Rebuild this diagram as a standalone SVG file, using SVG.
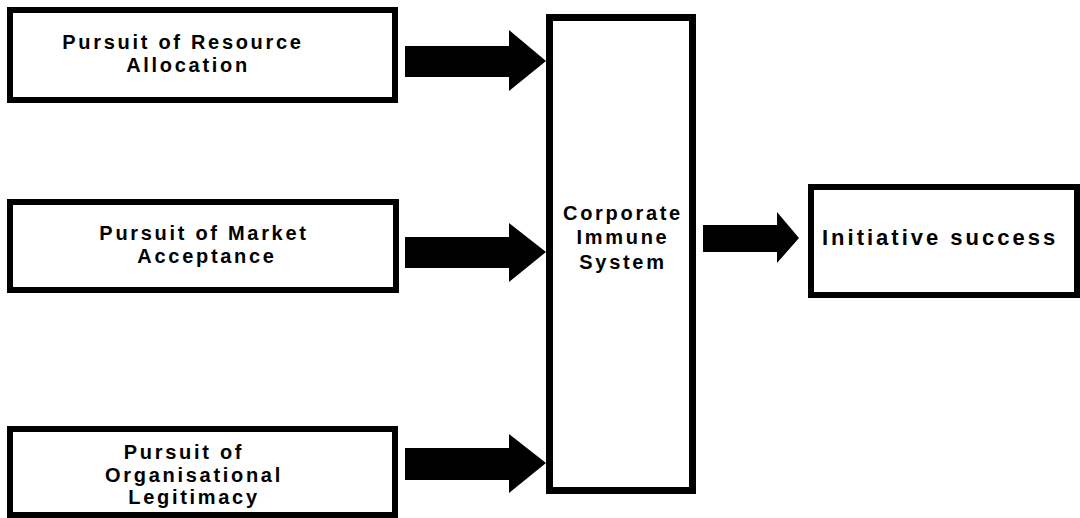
<svg xmlns="http://www.w3.org/2000/svg" width="1080" height="518" viewBox="0 0 1080 518">
<style>
.box{fill:#fff;stroke:#000;stroke-width:6}
.lbl{font-family:"Liberation Sans",Arial,sans-serif;font-weight:bold;font-size:20px;letter-spacing:2.7px;fill:#000;text-anchor:middle}
.big{font-size:22px;letter-spacing:3px;text-anchor:start}
.arrow{fill:#000}
</style>
<rect width="1080" height="518" fill="#fff"/>
<g id="node-resource">
<rect class="box" x="10" y="10" width="385" height="90"/>
<text class="lbl" x="183" y="49">Pursuit of Resource</text>
<text class="lbl" x="188" y="72">Allocation</text>
</g>
<g id="node-market">
<rect class="box" x="10" y="202" width="386" height="88"/>
<text class="lbl" x="204" y="240">Pursuit of Market</text>
<text class="lbl" x="207" y="263">Acceptance</text>
</g>
<g id="node-legitimacy">
<rect class="box" x="10" y="429" width="385" height="86"/>
<text class="lbl" x="184" y="459">Pursuit of</text>
<text class="lbl" x="194" y="482">Organisational</text>
<text class="lbl" x="194" y="504">Legitimacy</text>
</g>
<g id="node-cis">
<rect class="box" x="549.5" y="17.5" width="143" height="473" style="stroke-width:7"/>
<text class="lbl" x="623" y="220">Corporate</text>
<text class="lbl" x="623" y="244">Immune</text>
<text class="lbl" x="623" y="269">System</text>
</g>
<g id="node-success">
<rect class="box" x="811" y="187" width="266" height="108"/>
<text class="lbl big" x="822" y="245">Initiative success</text>
</g>
<g id="connectors">
<polygon class="arrow" points="405,46 509,46 509,30 546,61 509,91 509,77 405,77"/>
<polygon class="arrow" points="405,237 509,237 509,223 546,252 509,282 509,268 405,268"/>
<polygon class="arrow" points="405,448 509,448 509,434 546,463 509,493 509,480 405,480"/>
<polygon class="arrow" points="703,225 777,225 777,212 799,238 777,263 777,252 703,252"/>
</g>
</svg>
